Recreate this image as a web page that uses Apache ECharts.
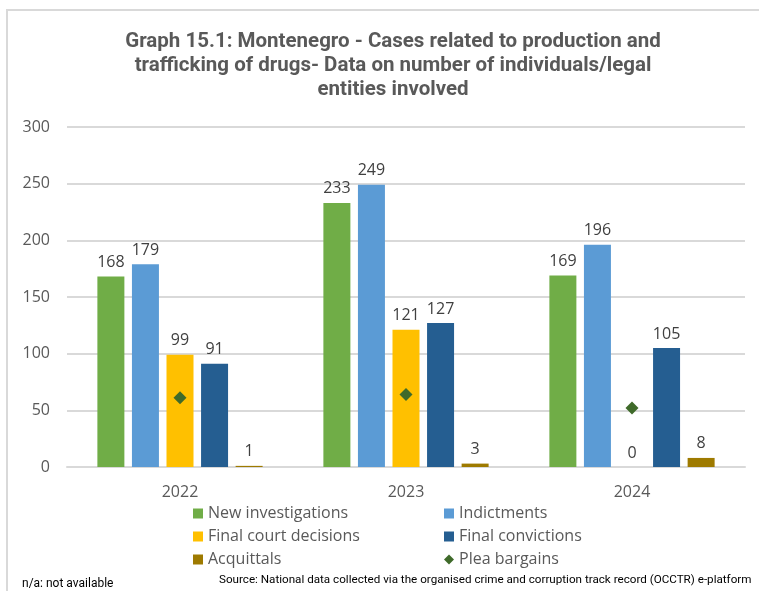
<!DOCTYPE html>
<html>
<head>
<meta charset="utf-8">
<script src="https://cdn.jsdelivr.net/npm/echarts@6/dist/echarts.min.js"></script>
<style>
    html, body { margin: 0; padding: 0; background: #fff; }
    #chart { width: 759px; height: 591px; }
</style>
</head>
<body>
<div id="chart"></div>
<script>
// Data
const years = ['2022', '2023', '2024'];
const newInvestigations = [168, 233, 169];
const indictments = [179, 249, 196];
const finalCourtDecisions = [99, 121, 0];
const finalConvictions = [91, 127, 105];
const acquittals = [1, 3, 8];
const pleaBargains = [61, 64, 52];

const LABEL_FONT = '"Open Sans", "Noto Sans", sans-serif';
const TEXT_COLOR = '#404040';

function barSeries(name, data, color) {
    return {
        name: name,
        type: 'bar',
        data: data,
        barWidth: 27,
        barGap: '28%',
        itemStyle: { color: color },
        label: {
            show: true,
            position: 'top',
            distance: 6,
            color: TEXT_COLOR,
            fontFamily: LABEL_FONT,
            fontSize: 16
        }
    };
}

const chart = echarts.init(document.getElementById('chart'));

const option = {
    animation: false,
    title: {
        text: 'Graph 15.1: Montenegro - Cases related to production and\ntrafficking of drugs- Data on number of individuals/legal\nentities involved',
        left: 388,
        top: 25,
        textAlign: 'center',
        textStyle: {
            fontFamily: 'Roboto, sans-serif',
            fontWeight: 'bold',
            fontSize: 20.5,
            lineHeight: 24,
            color: '#595959'
        }
    },
    grid: { left: 67, right: 14, top: 127, bottom: 124 },
    legend: {
        left: 188,
        top: 500,
        width: 510,
        itemWidth: 10,
        itemHeight: 10,
        itemGap: 6,
        textStyle: {
            fontFamily: LABEL_FONT,
            fontSize: 16,
            lineHeight: 17,
            width: 230,
            color: '#595959'
        },
        data: [
            { name: 'New investigations', icon: 'rect' },
            { name: 'Indictments', icon: 'rect' },
            { name: 'Final court decisions', icon: 'rect' },
            { name: 'Final convictions', icon: 'rect' },
            { name: 'Acquittals', icon: 'rect' },
            { name: 'Plea bargains', icon: 'diamond' }
        ]
    },
    xAxis: {
        type: 'category',
        data: years,
        axisLine: { lineStyle: { color: '#d9d9d9', width: 2 } },
        axisTick: { show: false },
        axisLabel: {
            margin: 17,
            color: '#595959',
            fontFamily: LABEL_FONT,
            fontSize: 16
        }
    },
    yAxis: {
        type: 'value',
        min: 0,
        max: 300,
        interval: 50,
        axisLine: { show: false },
        axisTick: { show: false },
        axisLabel: {
            margin: 17,
            color: '#595959',
            fontFamily: LABEL_FONT,
            fontSize: 16
        },
        splitLine: { lineStyle: { color: '#d9d9d9', width: 2 } }
    },
    series: [
        barSeries('New investigations', newInvestigations, '#70ad47'),
        barSeries('Indictments', indictments, '#5b9bd5'),
        barSeries('Final court decisions', finalCourtDecisions, '#ffc000'),
        barSeries('Final convictions', finalConvictions, '#255e91'),
        barSeries('Acquittals', acquittals, '#9e7a00'),
        {
            name: 'Plea bargains',
            type: 'scatter',
            data: pleaBargains,
            symbol: 'diamond',
            symbolSize: [13, 13],
            itemStyle: { color: '#3f6a2a', opacity: 1 },
            z: 5
        }
    ],
    graphic: [
        {
            type: 'rect',
            shape: { x: 7, y: 10, width: 800, height: 640 },
            style: { fill: 'none', stroke: '#d9d9d9', lineWidth: 2 },
            silent: true
        },
        {
            type: 'text',
            left: 22,
            top: 578,
            style: {
                text: 'n/a: not available',
                font: '12px Roboto, sans-serif',
                fill: '#000'
            }
        },
        {
            type: 'text',
            left: 219,
            top: 574,
            style: {
                text: 'Source: National data collected via the organised crime and corruption track record (OCCTR) e-platform',
                font: '11.65px Roboto, sans-serif',
                fill: '#000'
            }
        }
    ]
};

chart.setOption(option);
window.addEventListener('resize', () => chart.resize());
</script>
</body>
</html>
